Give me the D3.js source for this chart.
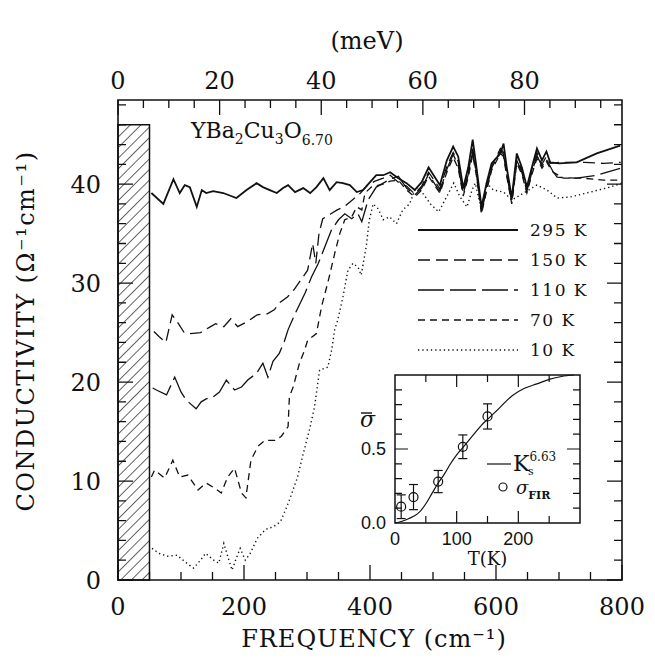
<!DOCTYPE html>
<html>
<head>
<meta charset="utf-8">
<script src="https://cdn.jsdelivr.net/npm/d3@7"></script>
<style>
  body { margin: 0; background: #fff; }
  text { font-family: "DejaVu Serif", serif; fill: #111; }
</style>
</head>
<body>
<div id="chart"></div>
<script>
// conductivity spectra

// axis ticks
const xTicksMajor = [0, 200, 400, 600, 800];
const yTicksMajor = [0, 10, 20, 30, 40];
const meVTicksMajor = [0, 20, 40, 60, 80];
const legendLabels = ['295 K', '150 K', '110 K', '70 K', '10 K'];

// [frequency cm-1, conductivity]
const sigma295 = [[53,39.1],[72,38.0],[88,40.5],[98,39.1],[106,39.9],[114,39.7],[125,37.7],[133,39.4],[140,39.1],[151,39.3],[167,39.1],[188,38.6],[204,39.4],[220,40.1],[230,39.7],[241,39.4],[252,39.1],[262,39.6],[270,39.9],[281,39.2],[294,39.6],[305,39.1],[315,39.7],[326,40.6],[336,39.4],[347,40.2],[357,40.1],[368,39.9],[379,39.2],[389,39.4],[400,40.2],[410,40.9],[421,40.9],[432,41.2],[445,40.6],[458,40.1],[471,39.4],[482,40.2],[493,41.7],[503,40.7],[511,39.9],[522,42.4],[532,43.8],[540,42.8],[548,39.6],[556,41.7],[563,44.5],[569,41.7],[577,37.7],[585,40.1],[593,42.1],[607,43.1],[612,44.1],[617,41.7],[625,38.6],[633,43.1],[641,41.7],[649,39.7],[657,41.7],[665,43.6],[673,42.4],[680,43.3],[686,42.2],[700,42.1],[728,42.2],[760,43.1],[797,43.9]];
const sigma150 = [[57,25.1],[65,24.6],[76,24.0],[86,26.8],[97,25.8],[105,25.0],[115,24.9],[131,25.0],[147,25.6],[155,25.9],[168,25.6],[179,26.4],[190,25.6],[205,26.1],[221,26.8],[237,26.9],[248,27.3],[258,28.1],[269,28.6],[279,29.3],[290,30.3],[301,31.3],[309,34.0],[314,32.0],[319,35.0],[325,36.5],[338,37.0],[348,37.4],[359,37.7],[372,38.4],[385,39.1],[396,39.9],[408,40.3],[421,40.6],[432,40.9],[445,40.2],[458,39.8],[471,39.0],[482,39.8],[493,41.2],[503,40.3],[511,39.5],[522,41.8],[532,43.2],[540,42.3],[548,39.2],[556,41.2],[563,43.6],[569,41.2],[577,37.4],[585,39.8],[593,41.8],[607,43.6],[612,43.2],[617,41.3],[625,38.4],[633,42.6],[641,41.4],[649,39.5],[657,41.5],[665,43.2],[673,42.0],[680,42.8],[686,42.1],[700,42.2],[740,42.2],[770,42.1],[798,42.2]];
const sigma110 = [[55,19.4],[61,19.2],[77,18.7],[90,20.5],[100,19.0],[108,18.2],[124,17.3],[132,18.0],[140,18.3],[151,18.5],[161,19.0],[172,20.2],[185,19.2],[196,19.5],[206,20.2],[220,20.9],[230,21.9],[238,20.5],[246,22.1],[256,22.9],[264,24.1],[270,25.3],[281,26.9],[297,29.0],[307,30.6],[318,32.0],[326,33.3],[339,35.4],[350,36.4],[360,37.0],[371,36.5],[381,37.0],[387,36.2],[397,38.4],[410,39.7],[421,40.1],[432,40.5],[445,40.8],[458,39.6],[471,38.9],[482,39.6],[493,41.0],[503,40.0],[511,39.3],[522,41.5],[532,43.0],[540,41.9],[548,39.0],[556,41.0],[563,43.3],[569,41.0],[577,37.2],[585,39.5],[593,41.6],[607,43.4],[612,43.0],[617,41.0],[625,38.2],[633,42.4],[641,41.2],[649,39.3],[657,41.2],[665,42.9],[673,41.8],[680,42.5],[686,41.8],[691,41.2],[697,40.7],[728,40.6],[760,40.9],[797,41.6]];
const sigma70 = [[53,10.4],[58,11.1],[74,10.3],[87,12.1],[98,10.4],[111,10.6],[127,9.1],[140,9.8],[153,9.3],[164,8.8],[174,10.4],[185,11.3],[196,8.8],[203,8.3],[211,12.1],[222,13.5],[233,14.1],[249,14.1],[259,14.5],[270,15.5],[272,18.5],[278,19.5],[288,21.9],[296,23.2],[301,24.2],[315,24.9],[323,27.6],[334,30.3],[344,33.0],[352,35.0],[360,36.4],[371,36.7],[379,37.7],[387,37.4],[392,39.1],[402,39.7],[421,40.0],[432,40.3],[445,40.4],[458,39.4],[471,38.7],[482,39.4],[493,40.8],[503,39.8],[511,39.1],[522,41.2],[532,42.7],[540,41.6],[548,38.8],[556,40.7],[563,43.0],[569,40.8],[577,37.0],[585,39.3],[593,41.4],[607,43.1],[612,42.8],[617,40.8],[625,38.0],[633,42.1],[641,41.0],[649,39.1],[657,41.0],[665,42.6],[673,41.6],[680,42.3],[686,41.6],[691,41.2],[707,40.6],[738,40.6],[771,40.4],[796,40.4]];
const sigma10 = [[54,3.2],[65,2.7],[78,2.4],[94,2.5],[107,1.8],[120,1.2],[131,2.0],[139,2.7],[152,2.0],[160,1.7],[168,3.7],[176,2.0],[181,1.0],[189,2.4],[194,3.2],[202,2.0],[210,2.7],[221,4.2],[234,5.1],[247,5.4],[258,5.9],[266,7.1],[274,8.4],[285,10.4],[293,12.5],[304,15.2],[312,17.5],[320,21.2],[333,21.5],[339,23.2],[344,25.3],[349,26.3],[357,28.6],[365,31.3],[373,32.0],[381,31.6],[386,30.8],[394,33.7],[399,36.4],[405,38.0],[413,37.5],[421,36.4],[431,36.7],[442,36.0],[452,37.4],[463,38.0],[473,39.7],[480,39.4],[496,38.0],[509,37.2],[519,38.4],[533,40.1],[543,38.7],[554,37.7],[562,39.4],[567,40.1],[577,37.4],[585,40.1],[596,39.4],[612,39.2],[625,38.4],[644,39.1],[665,39.9],[681,39.4],[697,38.6],[718,38.7],[750,39.2],[781,39.7],[800,40.1]];
const allSeries = [sigma295, sigma150, sigma110, sigma70, sigma10];
const dashes = [null, '12,6', '26,6', '7,5', '1.3,3'];
const widths = [1.8, 1.3, 1.3, 1.3, 1.4];

// inset: normalised superfluid density vs T
const insetT = [0, 10, 20, 30, 40, 50, 60, 70, 80, 90, 100, 110, 120, 130, 140, 150, 170, 190, 210, 230, 250, 270, 290];
const insetKs = [0, 0.01, 0.025, 0.045, 0.075, 0.13, 0.2, 0.27, 0.33, 0.4, 0.46, 0.51, 0.56, 0.61, 0.66, 0.7, 0.78, 0.86, 0.91, 0.94, 0.97, 0.99, 1.0];
const firT = [10, 30, 70, 110, 150];
const firSigma = [0.11, 0.175, 0.28, 0.515, 0.72];
const firErr = [0.08, 0.085, 0.075, 0.08, 0.085];

const width = 655, height = 658;
const plotLeft = 118, plotRight = 622, plotTop = 100, plotBottom = 580;

const svg = d3.select('#chart').append('svg').attr('width', width).attr('height', height);
const root = svg.append('g');

const x = d3.scaleLinear().domain([0, 800]).range([plotLeft, plotRight]);
const y = d3.scaleLinear().domain([0, 48.5]).range([plotBottom, plotTop]);
const xMeV = d3.scaleLinear().domain([0, 800 / 8.0655]).range([plotLeft, plotRight]);

// hatched region below 50 cm-1
const defs = svg.append('defs');
defs.append('pattern').attr('id', 'hatch').attr('patternUnits', 'userSpaceOnUse')
  .attr('width', 7.5).attr('height', 7.5).attr('patternTransform', 'rotate(45)')
  .append('line').attr('x1', 0).attr('y1', 0).attr('x2', 0).attr('y2', 7.5)
  .attr('stroke', '#111').attr('stroke-width', 1.3);
root.append('rect')
  .attr('x', x(0)).attr('y', y(46)).attr('width', x(50) - x(0)).attr('height', y(0) - y(46))
  .attr('fill', 'url(#hatch)').attr('stroke', '#111').attr('stroke-width', 1.5);

// spectra
const line = d3.line().x(d => x(d[0])).y(d => y(d[1]));
allSeries.forEach((s, i) => {
  root.append('path').datum(s)
    .attr('d', line)
    .attr('fill', 'none')
    .attr('stroke', '#111')
    .attr('stroke-width', widths[i])
    .attr('stroke-dasharray', dashes[i]);
});

// axis titles
root.append('text').attr('x', 367).attr('y', 49)
  .attr('text-anchor', 'middle').style('font-size', '24px').text('(meV)');
root.append('text').attr('x', 374).attr('y', 647)
  .attr('text-anchor', 'middle').style('font-size', '24px').style('letter-spacing', '1px')
  .text('FREQUENCY (cm⁻¹)');
root.append('text').attr('transform', 'translate(34,331) rotate(-90)')
  .attr('text-anchor', 'middle').style('font-size', '24px').style('letter-spacing', '1.5px')
  .text('CONDUCTIVITY (Ω⁻¹cm⁻¹)');

// sample name
const title = root.append('text').attr('x', 191).attr('y', 138).style('font-size', '22px');
title.append('tspan').text('YBa');
title.append('tspan').attr('dy', 6).style('font-size', '14px').text('2');
title.append('tspan').attr('dy', -6).text('Cu');
title.append('tspan').attr('dy', 6).style('font-size', '14px').text('3');
title.append('tspan').attr('dy', -6).text('O');
title.append('tspan').attr('dy', 7).style('font-size', '14px').text('6.70');

// legend
legendLabels.forEach((label, i) => {
  const ly = 230 + i * 30;
  root.append('line').attr('x1', 418).attr('x2', 518).attr('y1', ly).attr('y2', ly)
    .attr('stroke', '#111').attr('stroke-width', widths[i]).attr('stroke-dasharray', dashes[i]);
  root.append('text').attr('x', 530).attr('y', ly + 6)
    .style('font-size', '17px').style('letter-spacing', '1.5px').text(label);
});

// inset
const ix = d3.scaleLinear().domain([0, 300]).range([395, 580]);
const iy = d3.scaleLinear().domain([0, 1]).range([523, 375]);
root.append('rect').attr('x', 395).attr('y', 375).attr('width', 185).attr('height', 148)
  .attr('fill', '#fff');

// tick marks collected into one path, pointing inwards
function tickPath(specs, w) {
  const p = d3.path();
  specs.forEach(([scale, values, side, at, len]) => {
    values.forEach(v => {
      if (side === 'h') { p.moveTo(scale(v), at); p.lineTo(scale(v), at + len); }
      else { p.moveTo(at, scale(v)); p.lineTo(at + len, scale(v)); }
    });
  });
  root.append('path').attr('d', p.toString())
    .attr('fill', 'none').attr('stroke', '#111').attr('stroke-width', w);
}
function framePath(x0, y0, x1, y1, w) {
  const p = d3.path();
  p.rect(x0, y0, x1 - x0, y1 - y0);
  root.append('path').attr('d', p.toString())
    .attr('fill', 'none').attr('stroke', '#111').attr('stroke-width', w);
}
function tickLabels(scale, values, side, at, anchor, fmt, size, family) {
  root.append('g').selectAll('text').data(values).enter().append('text')
    .attr('x', d => side === 'h' ? scale(d) : at)
    .attr('y', d => side === 'h' ? at : scale(d) + size * 0.36)
    .attr('text-anchor', anchor)
    .style('font-size', size + 'px').style('font-family', family)
    .text(d3.format(fmt));
}

const ksLine = d3.line().curve(d3.curveMonotoneX).x((d, i) => ix(insetT[i])).y(d => iy(d));
root.append('path').datum(insetKs).attr('d', ksLine)
  .attr('fill', 'none').attr('stroke', '#111').attr('stroke-width', 1.2);

firT.forEach((t, i) => {
  const cx = ix(t), cy = iy(firSigma[i]);
  const y1 = iy(firSigma[i] + firErr[i]), y2 = iy(firSigma[i] - firErr[i]);
  root.append('line').attr('x1', cx).attr('x2', cx).attr('y1', y1).attr('y2', y2)
    .attr('stroke', '#111').attr('stroke-width', 1.2);
  [y1, y2].forEach(cap => root.append('line').attr('x1', cx - 4.5).attr('x2', cx + 4.5)
    .attr('y1', cap).attr('y2', cap).attr('stroke', '#111').attr('stroke-width', 1.2));
  root.append('circle').attr('cx', cx).attr('cy', cy).attr('r', 4.5)
    .attr('fill', 'none').attr('stroke', '#111').attr('stroke-width', 1.2);
});

// inset ticks and labels
const sans = '"Liberation Sans", sans-serif';
const insetMinorY = [0.1, 0.2, 0.3, 0.4, 0.6, 0.7, 0.8, 0.9];
tickPath([
  [ix, [50, 150, 250], 'h', 523, -7], [ix, [100, 200], 'h', 523, -12],
  [ix, [50, 150, 250], 'h', 375, 7], [ix, [100, 200], 'h', 375, 12],
  [iy, insetMinorY, 'v', 395, 7], [iy, [0.5], 'v', 395, 13],
  [iy, insetMinorY, 'v', 580, -7], [iy, [0.5], 'v', 580, -13]
], 1.2);
tickLabels(ix, [0, 100, 200], 'h', 545, 'middle', 'd', 18, sans);
tickLabels(iy, [0, 0.5], 'v', 386, 'end', '.1f', 18, sans);
framePath(395, 375, 580, 523, 1.5);

root.append('text').attr('x', ix(150)).attr('y', 565).attr('text-anchor', 'middle')
  .style('font-size', '18px').text('T(K)');
root.append('text').attr('x', 360).attr('y', 427).style('font-size', '22px')
  .style('font-style', 'italic').text('σ');
root.append('line').attr('x1', 361).attr('x2', 372).attr('y1', 413).attr('y2', 413)
  .attr('stroke', '#111').attr('stroke-width', 1.4);

root.append('line').attr('x1', 487).attr('x2', 511).attr('y1', 464).attr('y2', 464)
  .attr('stroke', '#111').attr('stroke-width', 1.2);
const ks = root.append('text').attr('x', 513).attr('y', 471).style('font-size', '22px');
ks.append('tspan').text('K');
ks.append('tspan').attr('dy', -10).style('font-size', '12px').text('6.63');
ks.append('tspan').attr('x', 528).attr('dy', 14).style('font-size', '11px').text('s');
root.append('circle').attr('cx', 503).attr('cy', 487).attr('r', 4)
  .attr('fill', 'none').attr('stroke', '#111').attr('stroke-width', 1.2);
const sf = root.append('text').attr('x', 516).attr('y', 494).style('font-size', '18px');
sf.append('tspan').style('font-style', 'italic').text('σ');
sf.append('tspan').attr('dy', 5).style('font-size', '11px').style('font-weight', 'bold').text('FIR');

// main axes: ticks on all four sides, labels bottom/left/top
const serif = '"DejaVu Serif", serif';
const minorY = d3.range(0, 49, 2).filter(v => v % 10 !== 0);
tickPath([
  [x, d3.range(50, 800, 50).filter(v => v % 200 !== 0), 'h', plotBottom, -8],
  [x, xTicksMajor, 'h', plotBottom, -15],
  [xMeV, d3.range(5, 100, 5).filter(v => v % 20 !== 0), 'h', plotTop, 8],
  [xMeV, meVTicksMajor, 'h', plotTop, 15],
  [y, minorY, 'v', plotLeft, 8], [y, yTicksMajor, 'v', plotLeft, 15],
  [y, minorY, 'v', plotRight, -8], [y, yTicksMajor, 'v', plotRight, -15]
], 1.3);
tickLabels(x, xTicksMajor, 'h', 615, 'middle', 'd', 24, serif);
tickLabels(xMeV, meVTicksMajor, 'h', 89, 'middle', 'd', 24, serif);
tickLabels(y, yTicksMajor, 'v', 101, 'end', 'd', 24, serif);
framePath(plotLeft, plotTop, plotRight, plotBottom, 1.6);
</script>
</body>
</html>
